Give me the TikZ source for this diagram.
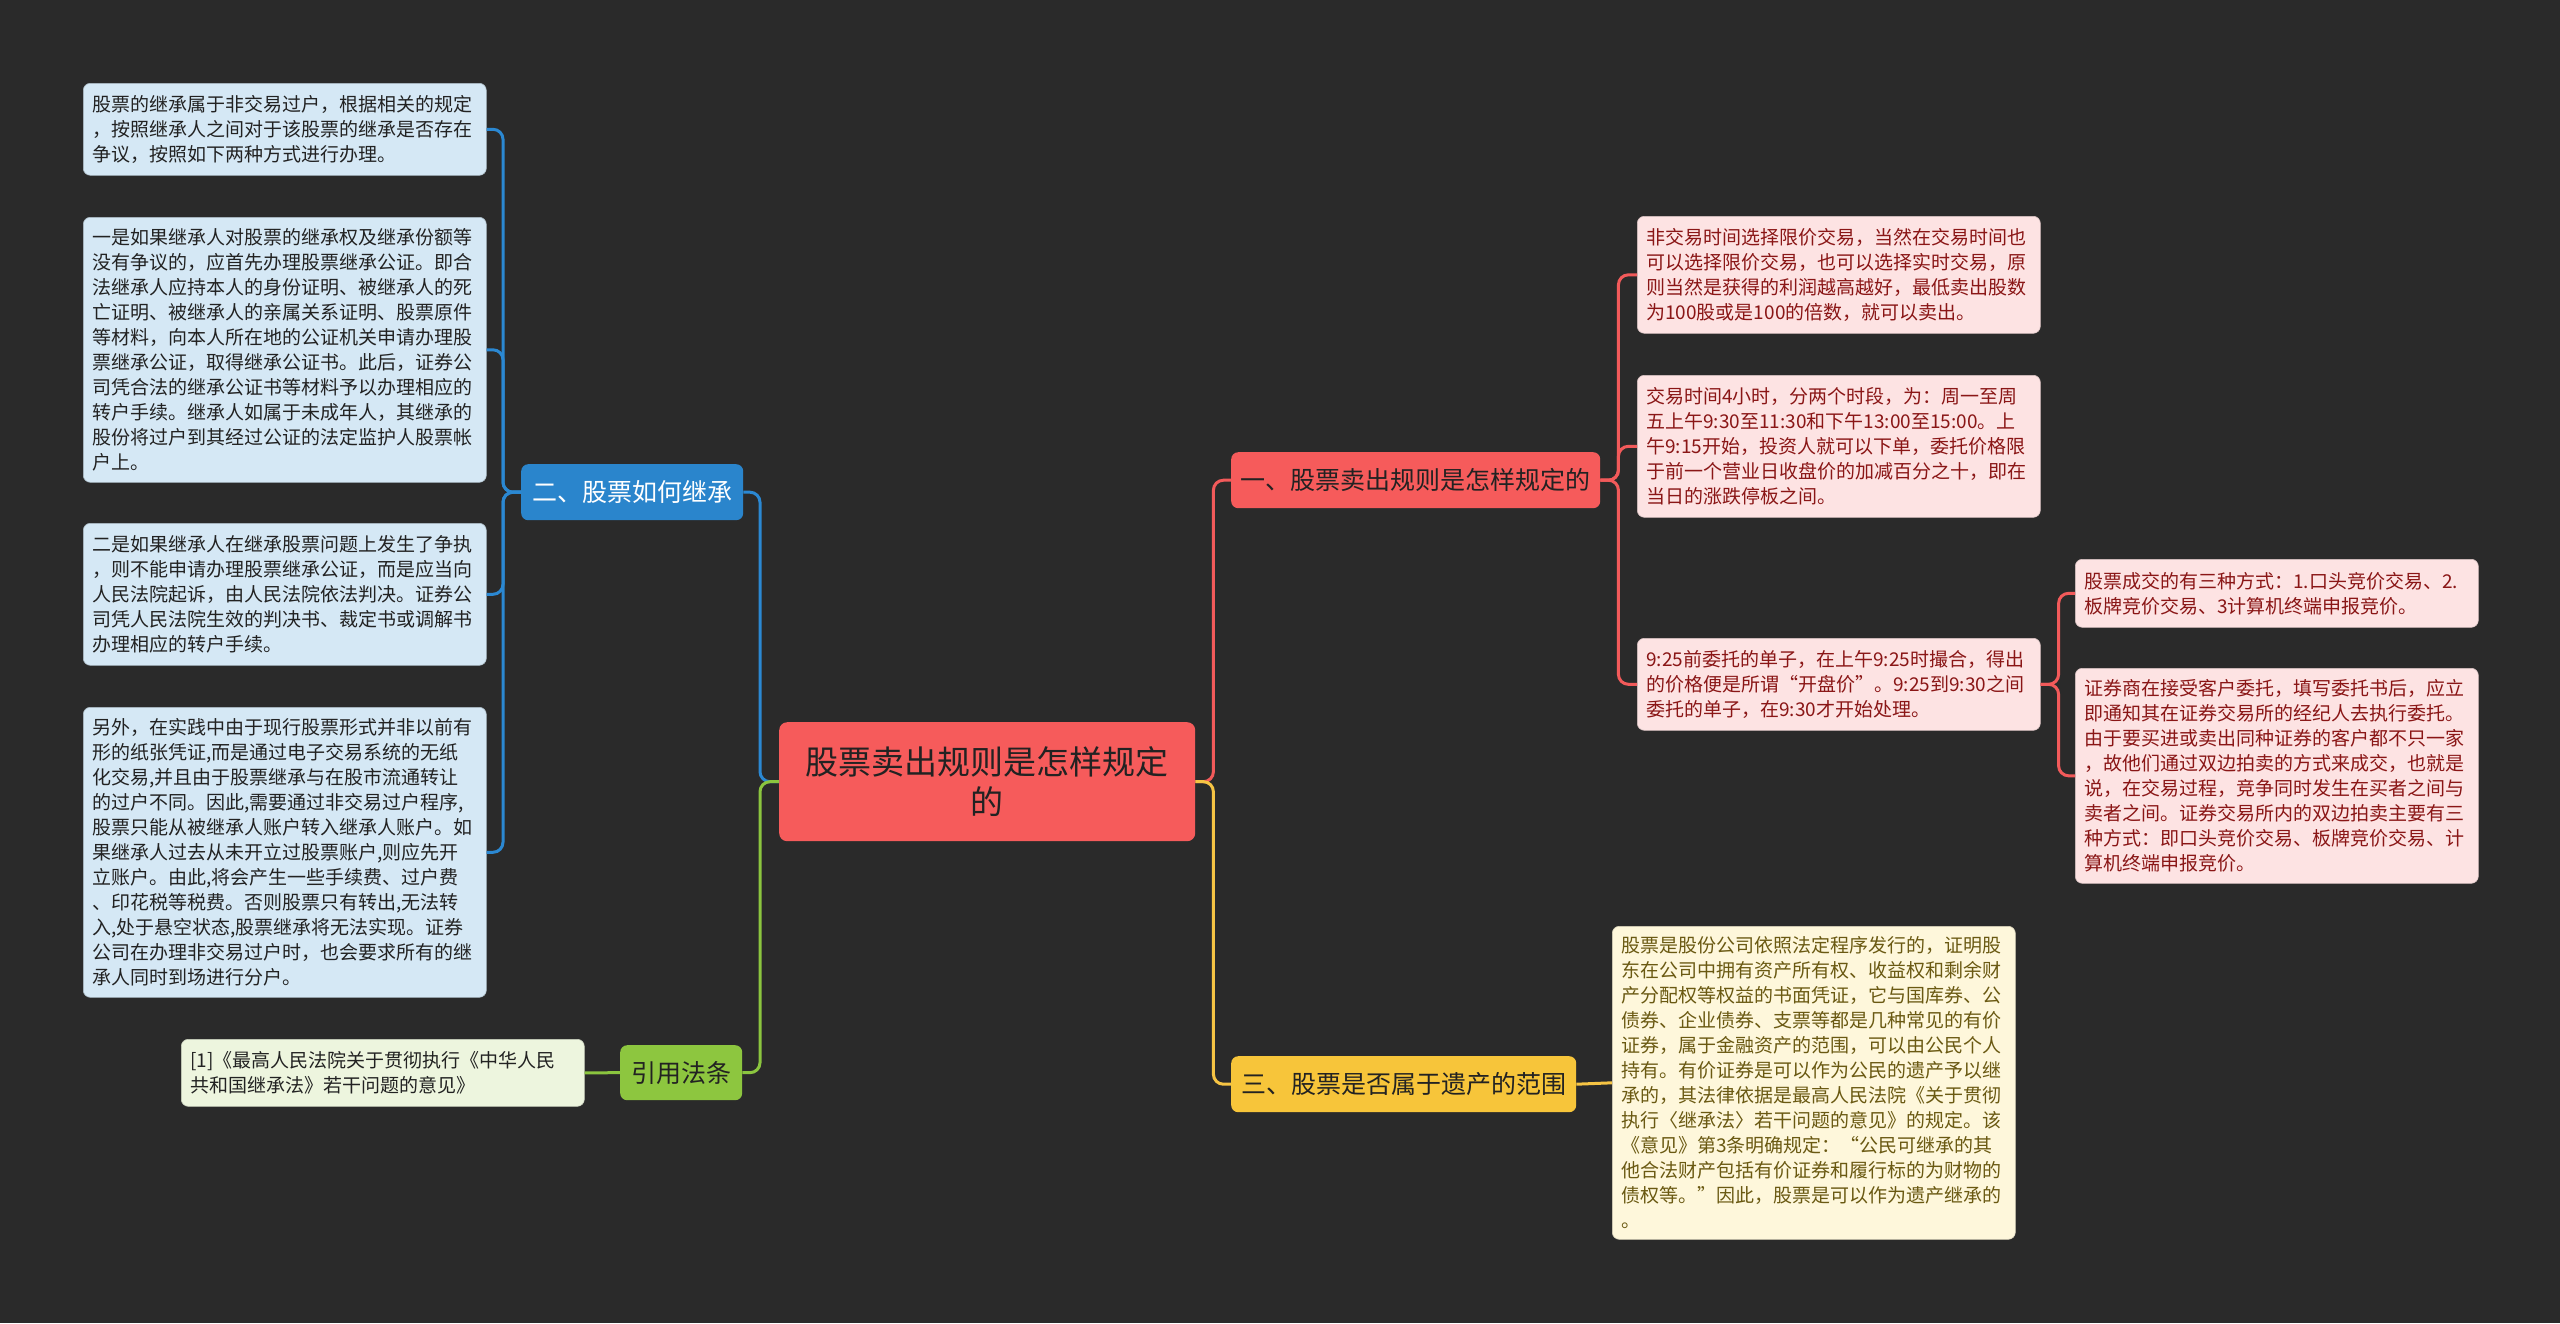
\documentclass[tikz,border=0pt]{standalone}
\usepackage{fontspec}
\setmainfont{Noto Sans CJK SC}
\definecolor{bg}{HTML}{2A2A2A}
\definecolor{blueL}{HTML}{2B88D2}
\definecolor{blueF}{HTML}{2A85CC}
\definecolor{blueBox}{HTML}{D5E8F5}
\definecolor{greenL}{HTML}{8BC53F}
\definecolor{greenF}{HTML}{8DC63F}
\definecolor{greenBox}{HTML}{EDF5DE}
\definecolor{redL}{HTML}{F25A5A}
\definecolor{redF}{HTML}{F65B5B}
\definecolor{pinkBox}{HTML}{FDE3E3}
\definecolor{pinkTxt}{HTML}{8A1616}
\definecolor{yelL}{HTML}{F6C444}
\definecolor{yelF}{HTML}{F7C53A}
\definecolor{yelBox}{HTML}{FEF7DB}
\definecolor{yelTxt}{HTML}{6A5912}
\definecolor{darkTxt}{HTML}{222222}
\begin{document}
\begin{tikzpicture}[x=1pt,y=-1pt,
  leafbox/.style={rounded corners=7pt, anchor=north west, inner xsep=9pt, inner ysep=6pt,
    text width=385pt, align=left, font=\fontsize{19}{25}\selectfont},
  bluebox/.style={leafbox, fill=blueBox, draw=blueBox!80!black, line width=0.6pt, text=darkTxt},
  pinkbox/.style={leafbox, fill=pinkBox, draw=pinkBox!85!black, line width=0.6pt, text=pinkTxt},
  yelbox/.style={leafbox, fill=yelBox, draw=yelBox!85!black, line width=0.6pt, text=yelTxt},
  greenbox/.style={leafbox, fill=greenBox, draw=greenBox!85!black, line width=0.6pt, text=darkTxt},
  branch/.style={rounded corners=7pt, anchor=north west, inner xsep=9pt, inner ysep=4pt,
    font=\fontsize{25}{30}\selectfont, minimum height=56pt},
  conn/.style={line width=3pt, rounded corners=10pt}
]
\path[fill=bg] (0,0) rectangle (2560,1323);

% centre
\node[rounded corners=8pt, anchor=north west, fill=redF, text=darkTxt, align=center,
  minimum width=416pt, minimum height=119pt, font=\fontsize{33}{40}\selectfont]
  (center) at (779,722) {股票卖出规则是怎样规定\\的};

% branches
\node[branch, fill=blueF, text=white, minimum width=222pt] (two) at (521,464) {二、股票如何继承};
\node[branch, fill=greenF, text=darkTxt, minimum width=122pt, minimum height=55pt] (law) at (620,1045) {引用法条};
\node[branch, fill=redF, text=darkTxt, minimum width=369pt] (one) at (1231,452) {一、股票卖出规则是怎样规定的};
\node[branch, fill=yelF, text=darkTxt, minimum width=345pt] (three) at (1231,1056) {三、股票是否属于遗产的范围};

% left leaves
\node[bluebox, minimum height=92pt] (A) at (83,83) {股票的继承属于非交易过户，根据相关的规定\\，按照继承人之间对于该股票的继承是否存在\\争议，按照如下两种方式进行办理。};
\node[bluebox, minimum height=265pt] (B) at (83,217) {一是如果继承人对股票的继承权及继承份额等\\没有争议的，应首先办理股票继承公证。即合\\法继承人应持本人的身份证明、被继承人的死\\亡证明、被继承人的亲属关系证明、股票原件\\等材料，向本人所在地的公证机关申请办理股\\票继承公证，取得继承公证书。此后，证券公\\司凭合法的继承公证书等材料予以办理相应的\\转户手续。继承人如属于未成年人，其继承的\\股份将过户到其经过公证的法定监护人股票帐\\户上。};
\node[bluebox, minimum height=142pt] (C) at (83,523) {二是如果继承人在继承股票问题上发生了争执\\，则不能申请办理股票继承公证，而是应当向\\人民法院起诉，由人民法院依法判决。证券公\\司凭人民法院生效的判决书、裁定书或调解书\\办理相应的转户手续。};
\node[bluebox, minimum height=290pt] (D) at (83,707) {另外，在实践中由于现行股票形式并非以前有\\形的纸张凭证,而是通过电子交易系统的无纸\\化交易,并且由于股票继承与在股市流通转让\\的过户不同。因此,需要通过非交易过户程序,\\股票只能从被继承人账户转入继承人账户。如\\果继承人过去从未开立过股票账户,则应先开\\立账户。由此,将会产生一些手续费、过户费\\、印花税等税费。否则股票只有转出,无法转\\入,处于悬空状态,股票继承将无法实现。证券\\公司在办理非交易过户时，也会要求所有的继\\承人同时到场进行分户。};
\node[greenbox, minimum height=67pt] (cite) at (181,1039) {[1]《最高人民法院关于贯彻执行《中华人民\\共和国继承法》若干问题的意见》};

% right leaves
\node[pinkbox, minimum height=117pt] (R1) at (1637,216) {非交易时间选择限价交易，当然在交易时间也\\可以选择限价交易，也可以选择实时交易，原\\则当然是获得的利润越高越好，最低卖出股数\\为100股或是100的倍数，就可以卖出。};
\node[pinkbox, minimum height=142pt] (R2) at (1637,375) {交易时间4小时，分两个时段，为：周一至周\\五上午9:30至11:30和下午13:00至15:00。上\\午9:15开始，投资人就可以下单，委托价格限\\于前一个营业日收盘价的加减百分之十，即在\\当日的涨跌停板之间。};
\node[pinkbox, minimum height=92pt] (R3) at (1637,638) {9:25前委托的单子，在上午9:25时撮合，得出\\的价格便是所谓“开盘价”。9:25到9:30之间\\委托的单子，在9:30才开始处理。};
\node[pinkbox, minimum height=68pt] (R3a) at (2075,559) {股票成交的有三种方式：1.口头竞价交易、2.\\板牌竞价交易、3计算机终端申报竞价。};
\node[pinkbox, minimum height=215pt] (R3b) at (2075,668) {证券商在接受客户委托，填写委托书后，应立\\即通知其在证券交易所的经纪人去执行委托。\\由于要买进或卖出同种证券的客户都不只一家\\，故他们通过双边拍卖的方式来成交，也就是\\说，在交易过程，竞争同时发生在买者之间与\\卖者之间。证券交易所内的双边拍卖主要有三\\种方式：即口头竞价交易、板牌竞价交易、计\\算机终端申报竞价。};
\node[yelbox, minimum height=313pt] (Y1) at (1612,926) {股票是股份公司依照法定程序发行的，证明股\\东在公司中拥有资产所有权、收益权和剩余财\\产分配权等权益的书面凭证，它与国库券、公\\债券、企业债券、支票等都是几种常见的有价\\证券，属于金融资产的范围，可以由公民个人\\持有。有价证券是可以作为公民的遗产予以继\\承的，其法律依据是最高人民法院《关于贯彻\\执行〈继承法〉若干问题的意见》的规定。该\\《意见》第3条明确规定：“公民可继承的其\\他合法财产包括有价证券和履行标的为财物的\\债权等。”因此，股票是可以作为遗产继承的\\。};

% connectors
\draw[conn, blueL] (center.west) -- ++(-19,0) |- (two.east);
\draw[conn, greenL] (center.west) -- ++(-19,0) |- (law.east);
\draw[conn, redL] (center.east) -- ++(18,0) |- (one.west);
\draw[conn, yelL] (center.east) -- ++(18,0) |- (three.west);

\foreach \t in {A,B,C,D} \draw[conn, blueL] (two.west) -- ++(-18,0) |- (\t.east);
\draw[conn, greenL] (law.west) -- (cite.east);
\foreach \t in {R1,R2,R3} \draw[conn, redL] (one.east) -- ++(18,0) |- (\t.west);
\foreach \t in {R3a,R3b} \draw[conn, redL] (R3.east) -- ++(18,0) |- (\t.west);
\draw[conn, yelL] (three.east) -- (Y1.west);
\end{tikzpicture}
\end{document}
